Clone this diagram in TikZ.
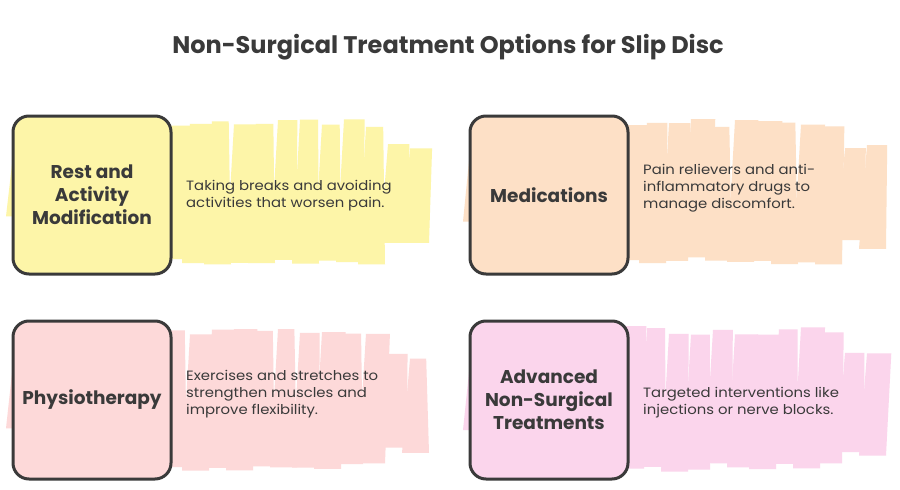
\documentclass[tikz,border=0pt]{standalone}
\usepackage{fontspec}
\setmainfont{Poppins}
\newfontfamily\descfont{Poppins}[FakeStretch=1.1]
\definecolor{ink}{HTML}{3A3A3A}
\definecolor{cYel}{HTML}{FDF5A8}
\definecolor{cPea}{HTML}{FDE0C6}
\definecolor{cRos}{HTML}{FDD9D9}
\definecolor{cPnk}{HTML}{FBD5EC}
\tikzset{
  boxnode/.style={draw=ink, line width=3pt, rounded corners=16pt, minimum width=158pt, minimum height=158pt, align=center, text=ink, font=\bfseries\fontsize{18.5}{23}\selectfont, inner sep=2pt},
  descnode/.style={anchor=west, align=left, text=ink, font=\descfont\fontsize{13.5}{17}\selectfont, inner sep=0pt},
  titlenode/.style={text=ink, font=\bfseries\fontsize{24}{28}\selectfont}
}
\newcommand{\brushband}[3]{%
  \pgfmathsetseed{#3}
  \foreach \i in {0,...,18}{%
    \pgfmathsetmacro{\xa}{#1 - 6 + \i*22}
    \pgfmathsetmacro{\tp}{#2 + 4 + 9*rnd + (\i>16 ? 24 : 0) + (\i==0 ? 22 : 0)}
    \pgfmathsetmacro{\bt}{#2 + 150 - 9*rnd - (\i>16 ? 16 : 0) - (\i==0 ? 40 : 0)}
    \pgfmathsetmacro{\rt}{24 + 10*rnd}
    \fill (\xa,\bt) -- (\xa+27,\bt) -- (\xa+\rt,\tp) -- (\xa+8,\tp) -- cycle;
  }%
}
\begin{document}
\begin{tikzpicture}[x=1pt,y=-1pt]
\useasboundingbox (0,0) rectangle (900,490);
\fill[white] (0,0) rectangle (900,490);
\node[titlenode] (title) at (448,47) {Non-Surgical Treatment Options for Slip Disc};

\begin{scope}[fill=cYel]\brushband{12}{115}{11}\end{scope}
\begin{scope}[fill=cPea]\brushband{469}{115}{23}\end{scope}
\begin{scope}[fill=cRos]\brushband{12}{322}{37}\end{scope}
\begin{scope}[fill=cPnk]\brushband{469}{322}{41}\end{scope}

\node[boxnode, fill=cYel] (b1) at (92,195) {Rest and\\Activity\\Modification};
\node[boxnode, fill=cPea] (b2) at (549,195) {Medications};
\node[boxnode, fill=cRos] (b3) at (92,400) {Physiotherapy};
\node[boxnode, fill=cPnk] (b4) at (549,400) {Advanced\\Non-Surgical\\Treatments};

\node[descnode] (d1) at (186,196) {Taking breaks and avoiding\\activities that worsen pain.};
\node[descnode] (d2) at (643,188) {Pain relievers and anti-\\inflammatory drugs to\\manage discomfort.};
\node[descnode] (d3) at (186,394) {Exercises and stretches to\\strengthen muscles and\\improve flexibility.};
\node[descnode] (d4) at (643,403) {Targeted interventions like\\injections or nerve blocks.};
\end{tikzpicture}
\end{document}
